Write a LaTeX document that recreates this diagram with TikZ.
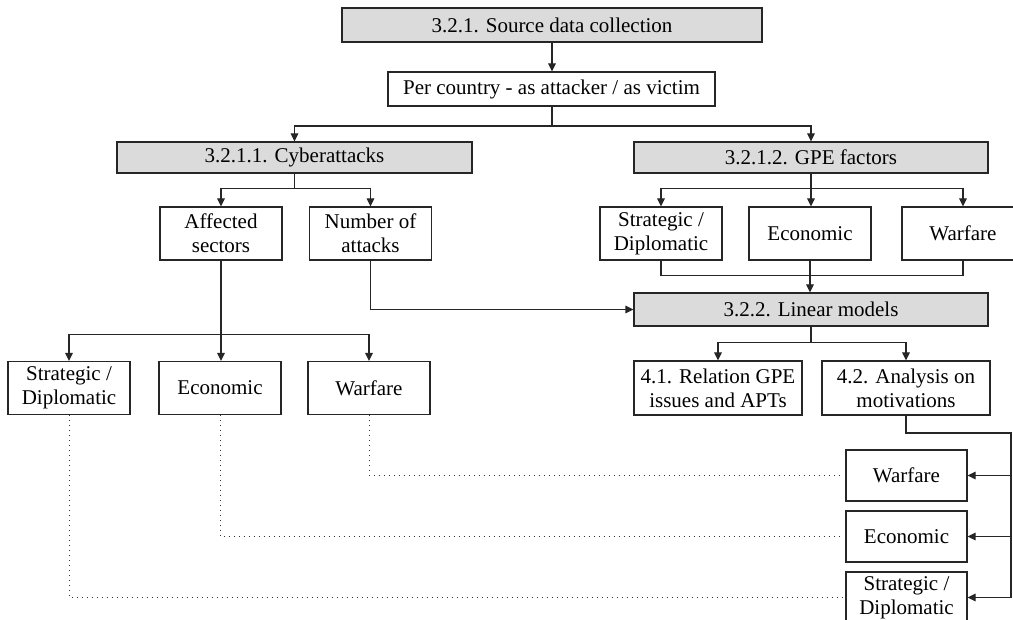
\documentclass[tikz,border=0pt]{standalone}
\usepackage{fontspec}
\setmainfont{Liberation Serif}
\usetikzlibrary{positioning,arrows.meta,calc}

\begin{document}
\begin{tikzpicture}[
  x=0.5pt, y=-0.5pt,
  font=\fontsize{10.5}{12}\selectfont,
  box/.style={draw=black!85, line width=0.65pt, fill=white, align=center, inner sep=2pt, minimum width=61pt, minimum height=26.5pt},
  gbox/.style={box, fill=black!14, minimum height=15.5pt},
  arr/.style={-{Triangle[length=4pt, width=3.8pt]}, line width=0.65pt, black!85},
  link/.style={line width=0.65pt, black!85},
  dots/.style={dotted, line width=0.5pt, black!80, shorten >=1.5pt}
]
\useasboundingbox (0,0) rectangle (1013,620);

% ---- source layer ----
\node[gbox, minimum width=210pt, minimum height=17pt] (src) at (552,25) {3.2.1. Source data collection};
\node[box, minimum width=163.5pt, minimum height=17pt] (per) at (551.5,89) {Per country - as attacker / as victim};

% ---- branches ----
\node[gbox, minimum width=177.5pt] (cyber) at (294.5,157.5) {3.2.1.1. Cyberattacks};
\node[gbox, minimum width=177pt] (gpe) at (811,157.5) {3.2.1.2. GPE factors};

\node[box] (aff) at (221,233.5) {Affected\\sectors};
\node[box] (num) at (370.5,233.5) {Number of\\attacks};
\node[box] (gsd) at (661,233.5) {Strategic /\\Diplomatic};
\node[box] (gec) at (810,233.5) {Economic};
\node[box] (gwf) at (963,233.5) {Warfare};

\node[gbox, minimum width=177pt, minimum height=16.5pt] (lin) at (811,309.5) {3.2.2. Linear models};

% ---- sectors and results ----
\node[box] (csd) at (69,388) {Strategic /\\Diplomatic};
\node[box] (cec) at (220,388) {Economic};
\node[box] (cwf) at (369,388) {Warfare};
\node[box, minimum width=84pt, minimum height=27pt] (rel) at (718,388) {4.1. Relation GPE\\issues and APTs};
\node[box, minimum width=84pt, minimum height=27pt] (mot) at (906,388) {4.2. Analysis on\\motivations};

% ---- motivations ----
\node[box, minimum width=60.5pt, minimum height=25.5pt] (mwf) at (906.5,475.5) {Warfare};
\node[box, minimum width=60.5pt, minimum height=25.5pt] (mec) at (906.5,536.5) {Economic};
\node[box, minimum width=60.5pt, minimum height=25.5pt] (msd) at (906.5,597.5) {Strategic /\\Diplomatic};

% ---- arrows ----
\coordinate (split) at (552,126);
\draw[arr] (src.south) -- (src.south |- per.north);
\draw[link] (per.south -| split) -- (split);
\draw[arr] (split) -| (cyber.north);
\draw[arr] (split) -| (gpe.north);

\draw[arr] (cyber.south) -- ++(0,15) -| (aff.north);
\draw[arr] (cyber.south) -- ++(0,15) -| (num.north);
\draw[arr] (aff.south) -- (aff.south |- cec.north);
\draw[arr] (aff.south) ++(0,74) -| (csd.north);
\draw[arr] (aff.south) ++(0,74) -| (cwf.north);
\draw[arr] (num.south) |- (lin.west);

\draw[arr] (gpe.south) -- ++(0,15) -| (gsd.north);
\draw[arr] (gpe.south) -- (gpe.south |- gec.north);
\draw[arr] (gpe.south) -- ++(0,15) -| (gwf.north);
\draw[link] (gsd.south) -- ++(0,15) -| (gwf.south);
\draw[arr] (gec.south) -- (gec.south |- lin.north);

\draw[arr] (lin.south) -- ++(0,16) -| (rel.north);
\draw[arr] (lin.south) -- ++(0,16) -| (mot.north);

\coordinate (rail) at (1011,433);
\draw[link] (mot.south) |- (rail) -- (rail |- msd.east);
\draw[arr] (rail |- mwf.east) -- (mwf.east);
\draw[arr] (rail |- mec.east) -- (mec.east);
\draw[arr] (rail |- msd.east) -- (msd.east);

% ---- dotted links ----
\draw[dots] (cwf.south) |- (mwf.west);
\draw[dots] (cec.south) |- (mec.west);
\draw[dots] (csd.south) |- (msd.west);
\end{tikzpicture}
\end{document}
